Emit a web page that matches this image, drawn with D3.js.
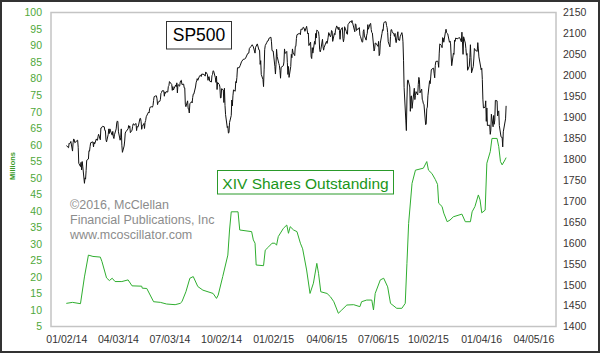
<!DOCTYPE html>
<html>
<head>
<meta charset="utf-8">
<script src="https://cdn.jsdelivr.net/npm/d3@7"></script>
<style>
  body { margin: 0; background: #fff; }
  svg { display: block; font-family: Arial, "Liberation Sans", sans-serif; }
</style>
</head>
<body>
<script>
// S&P 500 daily closes, [month-day, close], one array per year.
const sp2014 = [
  ['01-02',1832],['01-03',1831],['01-06',1827],['01-07',1838],['01-08',1837],['01-09',1838],['01-10',1842],
  ['01-13',1819],['01-14',1839],['01-15',1848],['01-16',1846],['01-17',1839],['01-21',1844],['01-22',1845],
  ['01-23',1828],['01-24',1790],['01-27',1782],['01-28',1792],['01-29',1774],['01-30',1794],['01-31',1783],
  ['02-03',1742],['02-04',1755],['02-05',1752],['02-06',1773],['02-07',1797],['02-10',1800],['02-11',1820],
  ['02-12',1819],['02-13',1830],['02-14',1839],['02-18',1841],['02-19',1829],['02-20',1840],['02-21',1836],
  ['02-24',1848],['02-25',1845],['02-26',1845],['02-27',1854],['02-28',1859],['03-03',1846],['03-04',1874],
  ['03-05',1874],['03-06',1877],['03-07',1878],['03-10',1877],['03-11',1868],['03-12',1868],['03-13',1846],
  ['03-14',1841],['03-17',1859],['03-18',1872],['03-19',1861],['03-20',1872],['03-21',1867],['03-24',1857],
  ['03-25',1866],['03-26',1853],['03-27',1849],['03-28',1858],['03-31',1872],['04-01',1886],['04-02',1891],
  ['04-03',1889],['04-04',1865],['04-07',1845],['04-08',1852],['04-09',1872],['04-10',1833],['04-11',1816],
  ['04-14',1831],['04-15',1843],['04-16',1862],['04-17',1865],['04-21',1872],['04-22',1880],['04-23',1875],
  ['04-24',1879],['04-25',1863],['04-28',1869],['04-29',1878],['04-30',1884],['05-01',1884],['05-02',1881],
  ['05-05',1885],['05-06',1868],['05-07',1878],['05-08',1876],['05-09',1878],['05-12',1897],['05-13',1897],
  ['05-14',1889],['05-15',1871],['05-16',1878],['05-19',1885],['05-20',1873],['05-21',1888],['05-22',1892],
  ['05-23',1901],['05-27',1912],['05-28',1910],['05-29',1920],['05-30',1924],['06-02',1925],['06-03',1924],
  ['06-04',1928],['06-05',1940],['06-06',1949],['06-09',1951],['06-10',1951],['06-11',1944],['06-12',1930],
  ['06-13',1936],['06-16',1938],['06-17',1942],['06-18',1957],['06-19',1959],['06-20',1963],['06-23',1963],
  ['06-24',1950],['06-25',1960],['06-26',1957],['06-27',1961],['06-30',1960],['07-01',1973],['07-02',1975],
  ['07-03',1985],['07-07',1978],['07-08',1964],['07-09',1973],['07-10',1965],['07-11',1968],['07-14',1977],
  ['07-15',1973],['07-16',1982],['07-17',1958],['07-18',1978],['07-21',1974],['07-22',1984],['07-23',1987],
  ['07-24',1988],['07-25',1978],['07-28',1979],['07-29',1970],['07-30',1970],['07-31',1931],['08-01',1925],
  ['08-04',1939],['08-05',1920],['08-06',1920],['08-07',1910],['08-08',1932],['08-11',1937],['08-12',1934],
  ['08-13',1947],['08-14',1955],['08-15',1955],['08-18',1972],['08-19',1982],['08-20',1987],['08-21',1992],
  ['08-22',1988],['08-25',1998],['08-26',2000],['08-27',2000],['08-28',1997],['08-29',2003],['09-02',2002],
  ['09-03',2001],['09-04',1998],['09-05',2008],['09-08',2002],['09-09',1988],['09-10',1996],['09-11',1997],
  ['09-12',1986],['09-15',1984],['09-16',1999],['09-17',2002],['09-18',2011],['09-19',2010],['09-22',1994],
  ['09-23',1983],['09-24',1998],['09-25',1966],['09-26',1983],['09-29',1978],['09-30',1972],['10-01',1946],
  ['10-02',1946],['10-03',1968],['10-06',1965],['10-07',1935],['10-08',1969],['10-09',1928],['10-10',1906],
  ['10-13',1875],['10-14',1878],['10-15',1862],['10-16',1863],['10-17',1887],['10-20',1904],['10-21',1941],
  ['10-22',1927],['10-23',1951],['10-24',1965],['10-27',1962],['10-28',1985],['10-29',1982],['10-30',1995],
  ['10-31',2018],['11-03',2018],['11-05',2024],['11-07',2032],['11-10',2038],['11-13',2039],['11-14',2040],
  ['11-18',2052],['11-20',2053],['11-21',2064],['11-24',2069],['11-26',2073],['11-28',2068],['12-01',2053],
  ['12-02',2067],['12-05',2075],['12-08',2060],['12-09',2060],['12-10',2026],['12-11',2035],['12-12',2002],
  ['12-15',1990],['12-16',1973],['12-17',2013],['12-18',2061],['12-19',2071],['12-22',2079],['12-23',2082],
  ['12-24',2082],['12-26',2089],['12-29',2091],['12-30',2080],['12-31',2059]
]
const sp2015 = [
  ['01-02',2058],['01-05',2021],['01-06',2003],['01-07',2026],['01-08',2062],['01-09',2045],['01-12',2028],
  ['01-13',2023],['01-14',2011],['01-15',1993],['01-16',2019],['01-20',2023],['01-21',2032],['01-22',2063],
  ['01-23',2052],['01-26',2057],['01-27',2030],['01-28',2002],['01-29',2021],['01-30',1995],['02-02',2021],
  ['02-03',2050],['02-04',2042],['02-05',2063],['02-06',2055],['02-09',2047],['02-10',2069],['02-11',2069],
  ['02-12',2088],['02-13',2097],['02-17',2100],['02-18',2100],['02-19',2097],['02-20',2110],['02-23',2110],
  ['02-24',2115],['02-25',2114],['02-26',2111],['02-27',2105],['03-02',2117],['03-03',2108],['03-04',2099],
  ['03-05',2101],['03-06',2071],['03-09',2079],['03-10',2044],['03-11',2040],['03-12',2066],['03-13',2053],
  ['03-16',2081],['03-17',2074],['03-18',2100],['03-19',2089],['03-20',2108],['03-23',2104],['03-24',2092],
  ['03-25',2061],['03-26',2056],['03-27',2061],['03-30',2086],['03-31',2068],['04-01',2060],['04-02',2067],
  ['04-06',2081],['04-07',2076],['04-08',2082],['04-09',2091],['04-10',2102],['04-13',2092],['04-14',2096],
  ['04-15',2107],['04-16',2105],['04-17',2081],['04-20',2100],['04-21',2097],['04-22',2108],['04-23',2113],
  ['04-24',2118],['04-27',2109],['04-28',2115],['04-29',2107],['04-30',2086],['05-01',2108],['05-04',2114],
  ['05-05',2089],['05-06',2080],['05-07',2088],['05-08',2116],['05-11',2105],['05-12',2099],['05-13',2098],
  ['05-14',2121],['05-15',2123],['05-18',2129],['05-19',2128],['05-20',2126],['05-21',2131],['05-22',2126],
  ['05-26',2104],['05-27',2123],['05-28',2121],['05-29',2107],['06-01',2112],['06-02',2110],['06-03',2114],
  ['06-04',2096],['06-05',2093],['06-08',2079],['06-09',2080],['06-10',2105],['06-11',2109],['06-12',2094],
  ['06-15',2084],['06-16',2096],['06-17',2100],['06-18',2121],['06-19',2110],['06-22',2123],['06-23',2124],
  ['06-24',2109],['06-25',2102],['06-26',2101],['06-29',2058],['06-30',2063],['07-01',2077],['07-02',2077],
  ['07-06',2069],['07-07',2081],['07-08',2047],['07-09',2051],['07-10',2077],['07-13',2100],['07-14',2109],
  ['07-15',2107],['07-16',2124],['07-17',2127],['07-20',2128],['07-21',2119],['07-22',2114],['07-23',2102],
  ['07-24',2080],['07-27',2068],['07-28',2093],['07-29',2109],['07-30',2109],['07-31',2104],['08-03',2098],
  ['08-04',2093],['08-05',2100],['08-06',2084],['08-07',2078],['08-10',2104],['08-11',2084],['08-12',2086],
  ['08-13',2083],['08-14',2092],['08-17',2102],['08-18',2097],['08-19',2080],['08-20',2036],['08-21',1971],
  ['08-24',1893],['08-25',1868],['08-26',1941],['08-27',1988],['08-28',1989],['08-31',1972],['09-01',1914],
  ['09-02',1949],['09-03',1951],['09-04',1921],['09-08',1969],['09-09',1942],['09-10',1952],['09-11',1961],
  ['09-14',1953],['09-15',1978],['09-16',1995],['09-17',1990],['09-18',1958],['09-21',1967],['09-22',1943],
  ['09-23',1939],['09-24',1932],['09-25',1931],['09-28',1882],['09-29',1884],['09-30',1920],['10-01',1924],
  ['10-02',1951],['10-05',1987],['10-06',1980],['10-07',1996],['10-08',2013],['10-09',2015],['10-12',2017],
  ['10-13',2004],['10-14',1994],['10-15',2024],['10-16',2033],['10-19',2034],['10-20',2031],['10-21',2019],
  ['10-22',2053],['10-23',2075],['10-26',2071],['10-27',2066],['10-28',2090],['10-29',2089],['10-30',2079],
  ['11-02',2104],['11-03',2110],['11-04',2102],['11-05',2100],['11-06',2099],['11-09',2079],['11-10',2082],
  ['11-11',2075],['11-12',2046],['11-13',2023],['11-16',2053],['11-17',2050],['11-18',2084],['11-19',2081],
  ['11-20',2089],['11-23',2087],['11-24',2089],['11-25',2089],['11-27',2090],['11-30',2080],['12-01',2103],
  ['12-02',2080],['12-03',2050],['12-04',2092],['12-07',2077],['12-08',2064],['12-09',2048],['12-10',2052],
  ['12-11',2012],['12-14',2022],['12-15',2043],['12-16',2073],['12-17',2042],['12-18',2006],['12-21',2021],
  ['12-22',2039],['12-23',2064],['12-24',2061],['12-28',2057],['12-29',2078],['12-30',2063],['12-31',2044]
]
const sp2016 = [
  ['01-04',2013],['01-05',2017],['01-06',1990],['01-07',1943],['01-08',1922],['01-11',1924],['01-12',1939],
  ['01-13',1890],['01-14',1922],['01-15',1880],['01-19',1881],['01-20',1859],['01-21',1869],['01-22',1907],
  ['01-25',1877],['01-26',1904],['01-27',1883],['01-28',1893],['01-29',1940],['02-01',1939],['02-02',1903],
  ['02-03',1913],['02-04',1915],['02-05',1880],['02-08',1853],['02-09',1852],['02-10',1852],['02-11',1829],
  ['02-12',1865],['02-16',1896],['02-17',1927]
]

// XIV shares outstanding (millions).
const xivShares = [
  ['2014-01-02',12.0],['2014-01-13',12.3],['2014-01-27',11.9],['2014-02-03',20.0],['2014-02-10',26.6],
  ['2014-02-18',26.2],['2014-03-03',26.0],['2014-03-06',24.6],['2014-03-14',19.7],['2014-03-19',18.9],
  ['2014-03-24',19.6],['2014-03-29',18.6],['2014-04-10',18.6],['2014-04-21',19.1],['2014-04-28',17.3],
  ['2014-05-15',17.2],['2014-05-16',16.6],['2014-05-24',16.5],['2014-06-05',12.5],['2014-06-17',12.3],
  ['2014-06-28',11.8],['2014-07-13',11.6],['2014-07-22',12.0],['2014-07-25',12.5],['2014-08-01',15.5],
  ['2014-08-08',19.6],['2014-08-14',20.1],['2014-08-22',17.1],['2014-08-31',16.0],['2014-09-18',15.0],
  ['2014-09-24',13.5],['2014-09-27',14.5],['2014-10-05',20.1],['2014-10-14',26.6],['2014-10-17',34.2],
  ['2014-10-20',39.7],['2014-11-01',39.7],['2014-11-04',34.2],['2014-11-25',33.7],['2014-11-28',31.2],
  ['2014-12-01',30.2],['2014-12-03',23.6],['2014-12-16',23.4],['2014-12-19',28.1],['2014-12-25',29.1],
  ['2014-12-31',30.2],['2015-01-05',30.2],['2015-01-08',29.6],['2015-01-11',32.2],['2015-01-20',34.7],
  ['2015-01-26',35.7],['2015-01-29',33.2],['2015-02-01',35.2],['2015-02-07',34.2],['2015-02-13',33.7],
  ['2015-02-19',30.2],['2015-02-23',28.5],['2015-03-02',22.1],['2015-03-08',15.0],['2015-03-14',18.1],
  ['2015-03-20',24.1],['2015-03-23',21.1],['2015-03-27',15.5],['2015-04-07',15.0],['2015-04-13',14.0],
  ['2015-04-19',12.5],['2015-04-27',9.0],['2015-05-03',10.0],['2015-05-12',11.5],['2015-05-24',11.6],
  ['2015-06-04',11.0],['2015-06-07',12.5],['2015-06-16',13.0],['2015-06-25',13.0],['2015-06-28',10.0],
  ['2015-07-01',15.0],['2015-07-10',19.1],['2015-07-16',19.6],['2015-07-23',17.0],['2015-07-28',12.0],
  ['2015-08-08',10.5],['2015-08-17',10.5],['2015-08-23',12.0],['2015-08-26',24.1],['2015-08-29',36.2],
  ['2015-09-04',48.3],['2015-09-10',52.3],['2015-09-24',52.9],['2015-09-30',54.9],['2015-10-03',52.3],
  ['2015-10-09',51.3],['2015-10-15',49.5],['2015-10-19',48.0],['2015-10-21',42.3],['2015-10-27',41.3],
  ['2015-10-30',39.3],['2015-11-05',36.7],['2015-11-10',37.2],['2015-11-16',38.2],['2015-12-01',39.0],
  ['2015-12-07',36.7],['2015-12-16',36.7],['2015-12-19',39.7],['2015-12-24',41.3],['2015-12-30',44.8],
  ['2016-01-02',43.3],['2016-01-05',39.4],['2016-01-11',40.2],['2016-01-14',54.4],['2016-01-20',57.9],
  ['2016-01-23',61.9],['2016-02-01',61.9],['2016-02-04',59.4],['2016-02-07',54.9],['2016-02-10',53.9],
  ['2016-02-15',55.4],['2016-02-17',56.1]
]

const xTickDates = ['2014-01-02','2014-04-03','2014-07-03','2014-10-02','2015-01-02',
  '2015-04-06','2015-07-06','2015-10-02','2016-01-04','2016-04-05']
const leftTicks = d3.range(5, 101, 5)
const rightTicks = d3.range(1400, 2151, 50)
const copyLines = ['\u00a92016, McClellan', 'Financial Publications, Inc', 'www.mcoscillator.com']

const W = 600, H = 353
const plot = { left: 51, right: 556, top: 12.5, bottom: 326.5 }
const parse = d3.timeParse('%Y-%m-%d')

const spx = [['2014', sp2014], ['2015', sp2015], ['2016', sp2016]]
  .flatMap(([yr, arr]) => arr.map(([md, v]) => ({ date: parse(`${yr}-${md}`), value: v })))
const xiv = xivShares.map(([d, v]) => ({ date: parse(d), value: v }))

const svg = d3.select('body').append('svg')
  .attr('width', W)
  .attr('height', H)

// Scales.
const x = d3.scaleTime()
  .domain([parse('2013-12-06'), parse('2016-05-15')])
  .range([plot.left, plot.right])
const yL = d3.scaleLinear().domain([5, 100]).range([plot.bottom, plot.top])
const yR = d3.scaleLinear().domain([1400, 2150]).range([plot.bottom, plot.top])

// Outer frame and plot frame.
svg.append('rect')
  .attr('x', 1).attr('y', 1).attr('width', W - 2).attr('height', H - 2)
  .attr('fill', '#fff').attr('stroke', '#333').attr('stroke-width', 2)
svg.append('rect')
  .attr('x', plot.left).attr('y', plot.top)
  .attr('width', plot.right - plot.left).attr('height', plot.bottom - plot.top)
  .attr('fill', '#fff').attr('stroke', '#c4c4c4').attr('stroke-width', 1.5)

// Axes (labels only, no tick marks).
const leftAxis = svg.append('g')
  .attr('transform', `translate(${plot.left}, 0)`)
  .call(d3.axisLeft(yL).tickValues(leftTicks).tickSize(0).tickPadding(9))
leftAxis.select('.domain').remove()
leftAxis.selectAll('text').attr('fill', '#4fa83a').style('font-size', '10.5px')

const rightAxis = svg.append('g')
  .attr('transform', `translate(${plot.right}, 0)`)
  .call(d3.axisRight(yR).tickValues(rightTicks).tickFormat(d3.format('d')).tickSize(0).tickPadding(7))
rightAxis.select('.domain').remove()
rightAxis.selectAll('text').attr('fill', '#3a3434').style('font-size', '10.5px')

const bottomAxis = svg.append('g')
  .attr('transform', `translate(0, ${plot.bottom})`)
  .call(d3.axisBottom(x).tickValues(xTickDates.map(parse))
    .tickFormat(d3.timeFormat('%m/%d/%y')).tickSize(0).tickPadding(9))
bottomAxis.select('.domain').remove()
bottomAxis.selectAll('text').attr('fill', '#333').style('font-size', '10.5px')

svg.append('text')
  .attr('transform', `translate(15, 166) rotate(-90)`)
  .attr('text-anchor', 'middle')
  .attr('fill', '#3a9a2a')
  .style('font-size', '7.5px')
  .style('font-weight', 'bold')
  .text('Millions')

// Copyright text.
svg.append('g').selectAll('text')
  .data(copyLines)
  .join('text')
    .attr('x', 70)
    .attr('y', (d, i) => 208.5 + i * 15.4)
    .attr('fill', '#8c8c8c')
    .style('font-size', '12.5px')
    .text(d => d)

// Lines.
svg.append('path')
  .datum(xiv)
  .attr('fill', 'none')
  .attr('stroke', '#2fae2f')
  .attr('stroke-width', 1)
  .attr('d', d3.line().x(d => x(d.date)).y(d => yL(d.value)))

svg.append('path')
  .datum(spx)
  .attr('fill', 'none')
  .attr('stroke', '#111')
  .attr('stroke-width', 1)
  .attr('d', d3.line().x(d => x(d.date)).y(d => yR(d.value)))

// Label boxes.
svg.append('rect')
  .attr('x', 166.5).attr('y', 21.5).attr('width', 65).attr('height', 27.5)
  .attr('fill', '#fff').attr('stroke', '#333').attr('stroke-width', 1)
svg.append('text')
  .attr('x', 199).attr('y', 41)
  .attr('text-anchor', 'middle')
  .attr('fill', '#000')
  .style('font-size', '17.5px')
  .text('SP500')

svg.append('rect')
  .attr('x', 217.5).attr('y', 170.5).attr('width', 176).attr('height', 23.5)
  .attr('fill', '#fff').attr('stroke', '#2a9a2a').attr('stroke-width', 1)
svg.append('text')
  .attr('x', 305.5).attr('y', 188.5)
  .attr('text-anchor', 'middle')
  .attr('fill', '#1a961a')
  .style('font-size', '15.5px')
  .text('XIV Shares Outstanding')
</script>
</body>
</html>
